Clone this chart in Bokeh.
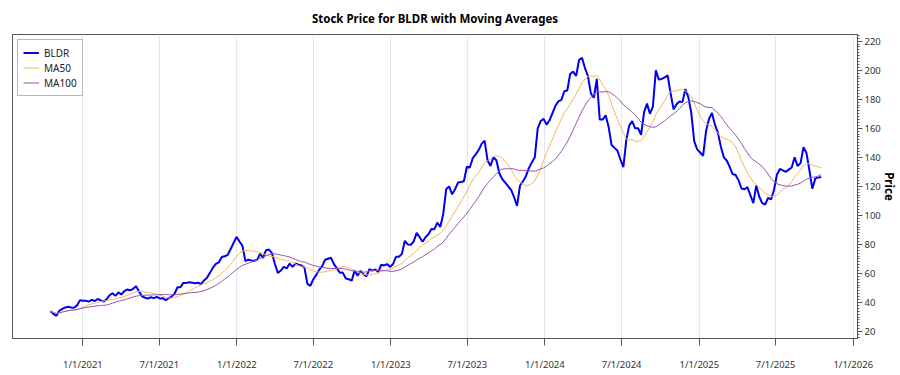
import pandas as pd
from bokeh.plotting import figure
from bokeh.models import (Range1d, FixedTicker, SingleIntervalTicker, Legend,
                          LegendItem, DatetimeTickFormatter)
from bokeh.embed import file_html
from bokeh.resources import INLINE

# ---------------- data (weekly closes) ----------------
start_date = "2020-10-16"
price = [
    34.0, 32.2, 30.8, 34.3, 35.6, 36.6, 37.0, 36.6, 36.4, 38.0,
    41.5, 41.2, 41.2, 40.6, 41.8, 41.0, 42.4, 41.5, 40.6, 42.2,
    45.0, 46.3, 44.6, 47.0, 45.5, 47.8, 49.0, 48.4, 49.4, 51.2,
    47.5, 44.3, 43.3, 42.7, 43.6, 43.0, 43.9, 42.8, 43.0, 41.6,
    42.8, 44.1, 46.0, 50.5, 50.5, 53.5, 53.5, 54.0, 53.6, 53.2,
    53.6, 52.7, 55.2, 57.0, 60.4, 64.0, 66.6, 67.6, 71.4, 71.8,
    72.8, 76.8, 81.0, 85.2, 82.0, 79.2, 68.5, 69.5, 69.0, 68.8,
    69.5, 73.5, 70.8, 76.0, 76.5, 74.0, 66.5, 60.3, 62.0, 64.5,
    63.5, 66.8, 64.5, 67.0, 66.0, 65.5, 64.0, 52.8, 51.5, 56.0,
    59.0, 62.5, 65.0, 69.5, 70.1, 70.8, 66.4, 63.5, 60.5, 60.6,
    56.5, 56.0, 55.0, 62.0, 58.5, 61.8, 59.5, 58.0, 63.0, 62.0,
    62.8, 61.0, 66.0, 65.5, 66.5, 64.5, 66.5, 71.5, 71.5, 73.5,
    82.5, 80.0, 79.8, 82.0, 88.0, 85.0, 81.8, 85.0, 87.0, 90.6,
    90.5, 95.0, 92.0, 101.0, 118.0, 120.0, 114.5, 118.0, 122.6, 123.0,
    123.5, 133.5, 133.0, 139.5, 142.0, 145.0, 149.3, 151.5, 138.0, 134.0,
    140.0, 138.0, 129.0, 125.0, 122.5, 120.0, 117.5, 112.5, 106.5, 120.6,
    123.5, 127.0, 132.5, 136.5, 140.0, 160.0, 165.0, 166.5, 162.5, 165.5,
    170.5, 175.5, 178.5, 179.5, 185.5, 186.0, 197.5, 199.0, 196.0, 207.0,
    208.5, 201.5, 196.0, 184.0, 181.0, 194.0, 166.0, 166.0, 169.0, 161.0,
    148.5, 146.5, 144.5, 138.5, 133.2, 152.0, 162.0, 165.0, 160.0, 160.0,
    155.5, 171.0, 177.0, 170.0, 175.0, 200.0, 193.5, 194.0, 195.0, 196.5,
    184.0, 173.0, 176.5, 178.5, 178.0, 187.0, 181.5, 170.5, 151.0, 145.5,
    143.3, 141.0, 158.0, 166.5, 170.5, 162.5, 157.0, 147.5, 140.0, 137.8,
    133.5, 128.5, 127.8, 124.2, 118.5, 118.0, 119.5, 114.0, 108.5, 120.5,
    113.0, 108.5, 107.5, 112.0, 111.0, 117.5, 128.0, 132.0, 131.0, 130.0,
    131.5, 133.0, 140.0, 134.0, 136.0, 147.0, 143.0, 131.0, 118.3, 125.5,
    126.0, 126.5,
]
# 50 / 100 trading days expressed in weekly samples
ma50_window = 10
ma100_window = 20

xtick_dates = ["2021-01-01", "2021-07-01", "2022-01-01", "2022-07-01",
               "2023-01-01", "2023-07-01", "2024-01-01", "2024-07-01",
               "2025-01-01", "2025-07-01", "2026-01-01"]
xtick_labels = ["1/1/2021", "7/1/2021", "1/1/2022", "7/1/2022", "1/1/2023",
                "7/1/2023", "1/1/2024", "7/1/2024", "1/1/2025", "7/1/2025",
                "1/1/2026"]
series_names = ["BLDR", "MA50", "MA100"]

# ---------------- derived series ----------------
dates = pd.date_range(start_date, periods=len(price), freq="7D")
s = pd.Series(price)
ma50 = s.rolling(ma50_window, min_periods=1).mean().tolist()
ma100 = s.rolling(ma100_window, min_periods=1).mean().tolist()

FONT = "Noto Sans"

p = figure(frame_width=845, frame_height=304, x_axis_type="datetime",
           y_axis_location="right",
           output_backend="svg", toolbar_location=None,
           x_range=Range1d(pd.Timestamp("2020-07-18"), pd.Timestamp("2026-01-11")),
           y_range=Range1d(15.2, 224.6),
           min_border_left=12, min_border_right=0, min_border_top=34,
           min_border_bottom=0)

p.title.text = "Stock Price for BLDR with Moving Averages"
p.title.align = "center"
p.title.vertical_align = "top"
p.title.text_font = FONT
p.title.text_font_size = "11.5px"
p.title.text_font_style = "bold"
p.title.text_color = "#000000"
p.title.standoff = 13

p.outline_line_color = "#555555"
p.background_fill_color = "white"
p.border_fill_color = "white"

r_price = p.line(dates, price, line_color="#0000F0", line_width=2)
r_ma50 = p.line(dates, ma50, line_color="#F2B660", line_width=1)
r_ma100 = p.line(dates, ma100, line_color="#9C52AE", line_width=1)

# x axis
tick_ms = [pd.Timestamp(d).value / 1e6 for d in xtick_dates]
xa = p.xaxis[0]
xa.ticker = FixedTicker(ticks=tick_ms)
xa.formatter = DatetimeTickFormatter(days="%-m/%-d/%Y", months="%-m/%-d/%Y",
                                     years="%-m/%-d/%Y")
xa.major_label_overrides = {t: l for t, l in zip(tick_ms, xtick_labels)}
xa.major_label_text_font = FONT
xa.major_label_text_font_size = "9.5px"
xa.major_label_text_color = "#333333"
xa.major_label_standoff = 12
xa.major_tick_out = 7
xa.major_tick_in = 0
xa.minor_tick_out = 0
xa.axis_line_color = "#555555"
xa.major_tick_line_color = "#555555"

# y axis (right)
ya = p.yaxis[0]
ya.ticker = SingleIntervalTicker(interval=20, num_minor_ticks=10)
ya.axis_label = "Price"
ya.axis_label_text_font = FONT
ya.axis_label_text_font_size = "11.5px"
ya.axis_label_text_font_style = "bold"
ya.axis_label_text_color = "#000000"
ya.axis_label_standoff = -2
ya.major_label_text_font = FONT
ya.major_label_text_font_size = "9.5px"
ya.major_label_text_color = "#333333"
ya.major_label_standoff = 2
ya.major_tick_out = 5
ya.major_tick_in = 0
ya.minor_tick_out = 2
ya.minor_tick_in = 0
ya.axis_line_color = "#555555"
ya.major_tick_line_color = "#555555"
ya.minor_tick_line_color = "#555555"

p.xgrid.grid_line_color = "#E6E6E6"
p.ygrid.grid_line_color = None

renderers = [r_price, r_ma50, r_ma100]
legend_style = dict(location="top_left", padding=5, spacing=0,
                    label_height=15, glyph_height=15, glyph_width=16,
                    label_standoff=5, label_width=33, label_text_font=FONT,
                    label_text_font_size="10px", label_text_color="#222222")

# drop shadow: an identical dark box 2px right/down, hidden under the legend
shadow = Legend(items=[LegendItem(label=" ", renderers=[r]) for r in renderers],
                margin=7, border_line_color=None,
                background_fill_color="#5a5a5a", background_fill_alpha=1.0,
                **legend_style)
legend = Legend(items=[LegendItem(label=n, renderers=[r])
                       for n, r in zip(series_names, renderers)],
                margin=5, border_line_color="#707070", border_line_width=1,
                background_fill_color="white", background_fill_alpha=1.0,
                **legend_style)
p.add_layout(shadow)
p.add_layout(legend)

open("out.html", "w").write(file_html(p, INLINE))
